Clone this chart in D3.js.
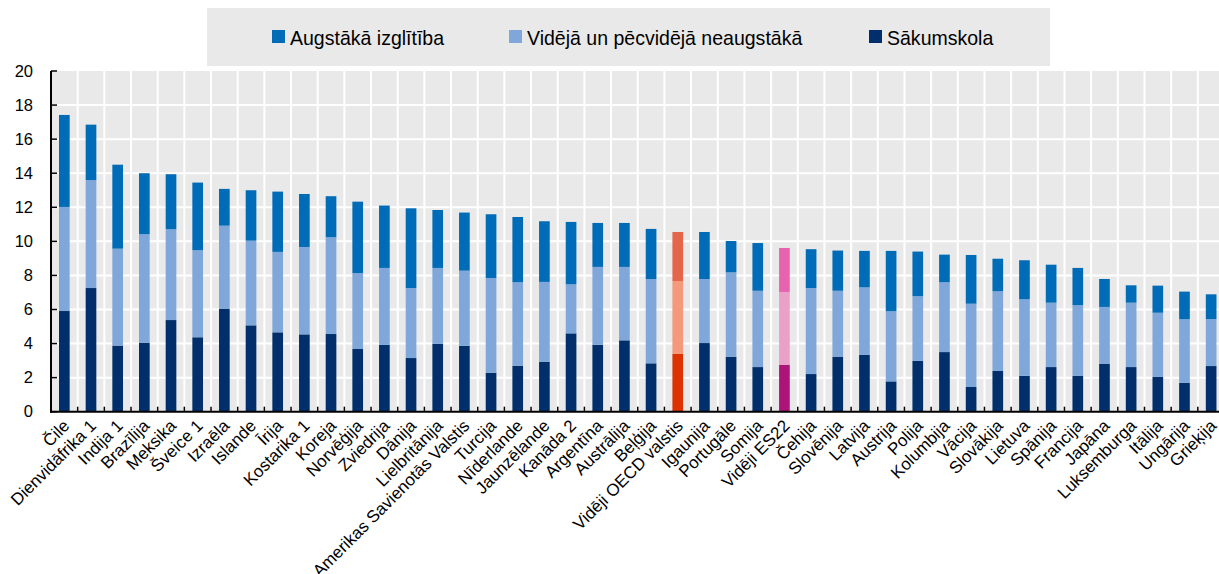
<!DOCTYPE html>
<html>
<head>
<meta charset="utf-8">
<script src="https://cdn.jsdelivr.net/npm/d3@7"></script>
<style>
  body { margin: 0; background: #fff; }
  svg { display: block; font-family: "Liberation Sans", Arial, sans-serif; }
</style>
</head>
<body>
<div id="chart"></div>
<script>
var categories = ["Čile", "Dienvidāfrika 1", "Indija 1", "Brazīlija", "Meksika", "Šveice 1", "Izraēla", "Islande", "Īrija", "Kostarika 1",
  "Koreja", "Norvēģija", "Zviedrija", "Dānija", "Lielbritānija", "Amerikas Savienotās Valstis", "Turcija", "Nīderlande", "Jaunzēlande", "Kanāda 2",
  "Argentīna", "Austrālija", "Beļģija", "Vidēji OECD valstis", "Igaunija", "Portugāle", "Somija", "Vidēji ES22", "Čehija", "Slovēnija",
  "Latvija", "Austrija", "Polija", "Kolumbija", "Vācija", "Slovākija", "Lietuva", "Spānija", "Francija", "Japāna",
  "Luksemburga", "Itālija", "Ungārija", "Grieķija"];

// Sākumskola
var primary = [5.91, 7.26, 3.88, 4.05, 5.38, 4.37, 6.05, 5.07, 4.66, 4.54,
  4.56, 3.68, 3.92, 3.15, 3.98, 3.86, 2.29, 2.70, 2.92, 4.60,
  3.93, 4.19, 2.84, 3.39, 4.03, 3.23, 2.62, 2.76, 2.21, 3.23,
  3.33, 1.78, 2.98, 3.50, 1.45, 2.39, 2.11, 2.62, 2.10, 2.82,
  2.62, 2.04, 1.69, 2.68];
// Vidējā un pēcvidējā neaugstākā
var secondary = [6.11, 6.34, 5.69, 6.37, 5.33, 5.11, 4.87, 4.97, 4.72, 5.13,
  5.68, 4.46, 4.52, 4.11, 4.46, 4.42, 5.56, 4.90, 4.70, 2.88,
  4.57, 4.31, 4.95, 4.28, 3.76, 4.95, 4.48, 4.27, 5.05, 3.87,
  3.97, 4.12, 3.80, 4.10, 4.89, 4.68, 4.49, 3.78, 4.15, 3.33,
  3.78, 3.77, 3.74, 2.76];
// Augstākā izglītība
var tertiary = [5.40, 3.25, 4.93, 3.58, 3.23, 3.97, 2.16, 2.96, 3.54, 3.11,
  2.41, 4.19, 3.66, 4.68, 3.40, 3.41, 3.74, 3.83, 3.56, 3.66,
  2.58, 2.58, 2.94, 2.88, 2.76, 1.84, 2.80, 2.58, 2.28, 2.36,
  2.14, 3.54, 2.62, 1.62, 2.86, 1.91, 2.29, 2.23, 2.19, 1.64,
  1.02, 1.59, 1.62, 1.45];

var yTicks = [0, 2, 4, 6, 8, 10, 12, 14, 16, 18, 20];
var legendNames = ["Augstākā izglītība", "Vidējā un pēcvidējā neaugstākā", "Sākumskola"];

(function() {
var keys = ["primary", "secondary", "tertiary"];
var colors = { primary: "#002f6c", secondary: "#7fa7d9", tertiary: "#006bb6" };
var highlightColors = {
  "Vidēji OECD valstis": { primary: "#dc3300", secondary: "#f4997b", tertiary: "#e5654b" },
  "Vidēji ES22": { primary: "#ac1479", secondary: "#e9a1c8", tertiary: "#e763b0" }
};

var width = 1219, height = 574;
var plotLeft = 51, plotTop = 71, plotBottom = 411.7;
var step = 26.67;

var rows = categories.map(function(c, i) {
  return { name: c, primary: primary[i], secondary: secondary[i], tertiary: tertiary[i] };
});

var svg = d3.select('#chart').append('svg')
  .attr('width', width)
  .attr('height', height);

var x = d3.scaleBand()
  .domain(categories)
  .range([plotLeft, plotLeft + step * categories.length])
  .paddingInner(0.6)
  .paddingOuter(0.3);
var y = d3.scaleLinear().domain([0, 20]).range([plotBottom, plotTop]);

// plot background
svg.append('rect')
  .attr('x', plotLeft).attr('y', y(20))
  .attr('width', width - plotLeft).attr('height', y(0) - y(20))
  .attr('fill', '#e9e9e9');

// grid
var bounds = categories.slice(0, -1).map(function(c) {
  return x(c) + x.bandwidth() / 2 + x.step() / 2;
});
svg.append('g').selectAll('line').data(yTicks.slice(1, -1)).enter().append('line')
  .attr('x1', plotLeft).attr('x2', width)
  .attr('y1', function(d) { return y(d); }).attr('y2', function(d) { return y(d); })
  .attr('stroke', '#fff').attr('stroke-width', 2);
svg.append('g').selectAll('line').data(bounds).enter().append('line')
  .attr('x1', function(d) { return d; }).attr('x2', function(d) { return d; })
  .attr('y1', y(20)).attr('y2', y(0))
  .attr('stroke', '#fff').attr('stroke-width', 2);

// bars
var stack = d3.stack().keys(keys)(rows);
svg.append('g').selectAll('g').data(stack).enter().append('g')
  .each(function(layer) {
    d3.select(this).selectAll('rect').data(layer).enter().append('rect')
      .attr('x', function(d) { return x(d.data.name); })
      .attr('width', x.bandwidth())
      .attr('y', function(d) { return y(d[1]); })
      .attr('height', function(d) { return y(d[0]) - y(d[1]); })
      .attr('fill', function(d) {
        var h = highlightColors[d.data.name];
        return h ? h[layer.key] : colors[layer.key];
      });
  });

// x axis
var xAxis = svg.append('g');
xAxis.selectAll('line.tick').data(bounds).enter().append('line')
  .attr('class', 'tick')
  .attr('x1', function(d) { return d; }).attr('x2', function(d) { return d; })
  .attr('y1', y(0)).attr('y2', y(0) - 5)
  .attr('stroke', '#000').attr('stroke-width', 1.5);
xAxis.append('line')
  .attr('x1', plotLeft - 1).attr('x2', width)
  .attr('y1', y(0)).attr('y2', y(0))
  .attr('stroke', '#000').attr('stroke-width', 2);
xAxis.selectAll('text').data(categories).enter().append('text')
  .attr('text-anchor', 'end')
  .attr('dy', '0.35em')
  .attr('font-size', 17)
  .attr('fill', '#000')
  .attr('transform', function(d) {
    return 'translate(' + (x(d) + x.bandwidth() / 2 + 2) + ',' + (y(0) + 11) + ') rotate(-45)';
  })
  .text(function(d) { return d; });

// y axis
var yAxis = svg.append('g');
yAxis.append('line')
  .attr('x1', plotLeft).attr('x2', plotLeft)
  .attr('y1', y(20)).attr('y2', y(0) + 1)
  .attr('stroke', '#000').attr('stroke-width', 2);
yAxis.selectAll('line.tick').data(yTicks).enter().append('line')
  .attr('class', 'tick')
  .attr('x1', plotLeft).attr('x2', plotLeft + 6)
  .attr('y1', function(d) { return y(d); }).attr('y2', function(d) { return y(d); })
  .attr('stroke', '#000').attr('stroke-width', 1.5);
yAxis.selectAll('text').data(yTicks).enter().append('text')
  .attr('x', 33)
  .attr('y', function(d) { return y(d); })
  .attr('dy', '0.35em')
  .attr('text-anchor', 'end')
  .attr('font-size', 16.5)
  .text(function(d) { return d; });

// legend
var legend = svg.append('g');
legend.append('rect')
  .attr('x', 207).attr('y', 8).attr('width', 843).attr('height', 58)
  .attr('fill', '#e9e9e9');
var legendX = [272, 509, 869];
var legendColors = [colors.tertiary, colors.secondary, colors.primary];
var item = legend.selectAll('g').data(legendNames).enter().append('g')
  .attr('transform', function(d, i) { return 'translate(' + legendX[i] + ',30)'; });
item.append('rect')
  .attr('width', 13).attr('height', 13)
  .attr('fill', function(d, i) { return legendColors[i]; });
item.append('text')
  .attr('transform', 'translate(18,15) scale(0.93,1)')
  .attr('font-size', 21)
  .text(function(d) { return d; });
})();
</script>
</body>
</html>
